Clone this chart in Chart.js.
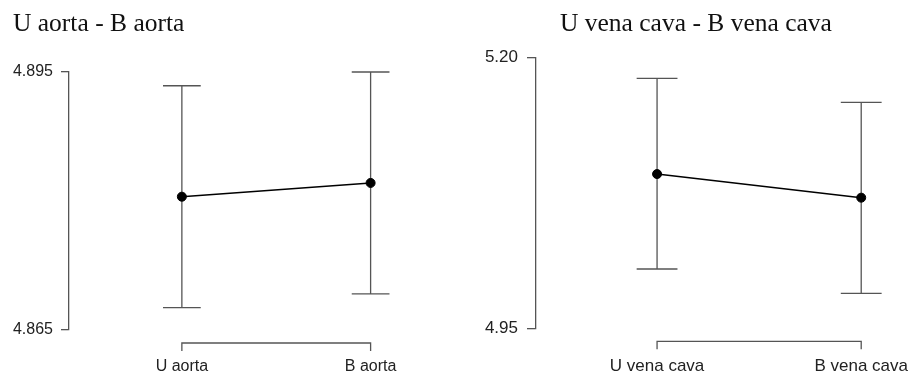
<!DOCTYPE html>
<html>
<head>
<meta charset="utf-8">
<script src="https://cdn.jsdelivr.net/npm/chart.js@4/dist/chart.umd.min.js"></script>
<style>
  html, body { margin: 0; padding: 0; background: #fff; }
  #wrap { position: relative; width: 909px; height: 376px; overflow: hidden; }
  #wrap canvas { position: absolute; top: 0; }
</style>
</head>
<body>
<div id="wrap">
  <canvas id="aorta" width="455" height="376" style="left:0"></canvas>
  <canvas id="cava" width="454" height="376" style="left:455px"></canvas>
</div>
<script>
// Aorta: means with 95% CI
const aortaTitle = 'U aorta - B aorta';
const aortaCategories = ['U aorta', 'B aorta'];
const aortaMeans = [4.8805, 4.8821];
const aortaLower = [4.8676, 4.8692];
const aortaUpper = [4.8934, 4.8950];
const aortaTicks = [4.865, 4.895];

// Vena cava: means with 95% CI
const cavaTitle = 'U vena cava - B vena cava';
const cavaCategories = ['U vena cava', 'B vena cava'];
const cavaMeans = [5.0923, 5.0705];
const cavaLower = [5.0047, 4.9823];
const cavaUpper = [5.1806, 5.1585];
const cavaTicks = [4.95, 5.20];

// Error bars, bracket-style x axis and panel title
function panelPlugin(cfg) {
  return {
    id: 'panel',
    beforeDatasetsDraw(chart) {
      const { ctx } = chart;
      const x = chart.scales.x, y = chart.scales.y;
      ctx.save();
      ctx.strokeStyle = '#555';
      ctx.lineWidth = 1.3;
      cfg.lower.forEach((lo, i) => {
        const px = x.getPixelForValue(i);
        const cap = x.getPixelForValue(i + 0.1) - px;
        const yl = y.getPixelForValue(lo);
        const yu = y.getPixelForValue(cfg.upper[i]);
        ctx.beginPath();
        ctx.moveTo(px, yl); ctx.lineTo(px, yu);
        ctx.moveTo(px - cap, yl); ctx.lineTo(px + cap, yl);
        ctx.moveTo(px - cap, yu); ctx.lineTo(px + cap, yu);
        ctx.stroke();
      });
      ctx.restore();
    },
    afterDraw(chart) {
      const { ctx, chartArea } = chart;
      const x = chart.scales.x;
      ctx.save();
      // x axis bracket spanning the two groups
      const ay = chartArea.bottom + cfg.axisGap;
      const x0 = x.getPixelForValue(0);
      const x1 = x.getPixelForValue(cfg.categories.length - 1);
      ctx.strokeStyle = '#555';
      ctx.lineWidth = 1.3;
      ctx.beginPath();
      ctx.moveTo(x0, ay + 8); ctx.lineTo(x0, ay);
      ctx.lineTo(x1, ay); ctx.lineTo(x1, ay + 8);
      ctx.stroke();
      ctx.fillStyle = '#222';
      ctx.font = cfg.tickFont + 'px "Liberation Sans", Arial, sans-serif';
      ctx.textAlign = 'center';
      ctx.textBaseline = 'alphabetic';
      cfg.categories.forEach((c, i) => {
        ctx.fillText(c, x.getPixelForValue(i), 370.7);
      });
      // panel title
      ctx.fillStyle = '#111';
      ctx.font = '25.5px "Liberation Serif", "Times New Roman", serif';
      ctx.textAlign = 'left';
      ctx.fillText(cfg.title, cfg.titleX, 31);
      ctx.restore();
    }
  };
}

function makePanel(id, cfg) {
  return new Chart(document.getElementById(id), {
    type: 'line',
    data: {
      datasets: [{
        data: cfg.means.map((m, i) => ({ x: i, y: m })),
        borderColor: '#000',
        borderWidth: 1.5,
        pointRadius: 4.5,
        pointBorderWidth: 1,
        pointBackgroundColor: '#000',
        pointBorderColor: '#000',
        tension: 0,
        clip: false
      }]
    },
    options: {
      responsive: false,
      animation: false,
      layout: { padding: { left: 0, right: cfg.padRight, top: cfg.top, bottom: 376 - cfg.bottom } },
      plugins: { legend: { display: false }, title: { display: false }, tooltip: { enabled: false } },
      scales: {
        x: { type: 'linear', display: false, min: cfg.xMin, max: cfg.xMax },
        y: {
          type: 'linear',
          min: cfg.ticks[0],
          max: cfg.ticks[cfg.ticks.length - 1],
          afterBuildTicks: (s) => { s.ticks = cfg.ticks.map(v => ({ value: v })); },
          afterFit: (s) => { s.width = cfg.axisX; },
          grid: { drawOnChartArea: false, drawTicks: true, tickLength: cfg.tickLen, color: '#555', lineWidth: 1.3 },
          border: { display: true, color: '#555', width: 1.3 },
          ticks: {
            padding: cfg.tickPad,
            color: '#222',
            font: { family: '"Liberation Sans", Arial, sans-serif', size: cfg.tickFont },
            callback: (v) => Number(v).toFixed(cfg.decimals)
          }
        }
      }
    },
    plugins: [panelPlugin(cfg)]
  });
}

makePanel('aorta', {
  title: aortaTitle, titleX: 13,
  categories: aortaCategories, means: aortaMeans, lower: aortaLower, upper: aortaUpper,
  ticks: aortaTicks, decimals: 3,
  top: 72, bottom: 330, axisX: 69, padRight: 5,
  xMin: -0.598, xMax: 1.418,
  tickLen: 8, tickPad: 8, tickFont: 16, axisGap: 13
});

makePanel('cava', {
  title: cavaTitle, titleX: 105,
  categories: cavaCategories, means: cavaMeans, lower: cavaLower, upper: cavaUpper,
  ticks: cavaTicks, decimals: 2,
  top: 57.3, bottom: 328.3, axisX: 81, padRight: 9,
  xMin: -0.593, xMax: 1.19,
  tickLen: 9, tickPad: 9, tickFont: 17, axisGap: 13
});
</script>
</body>
</html>
